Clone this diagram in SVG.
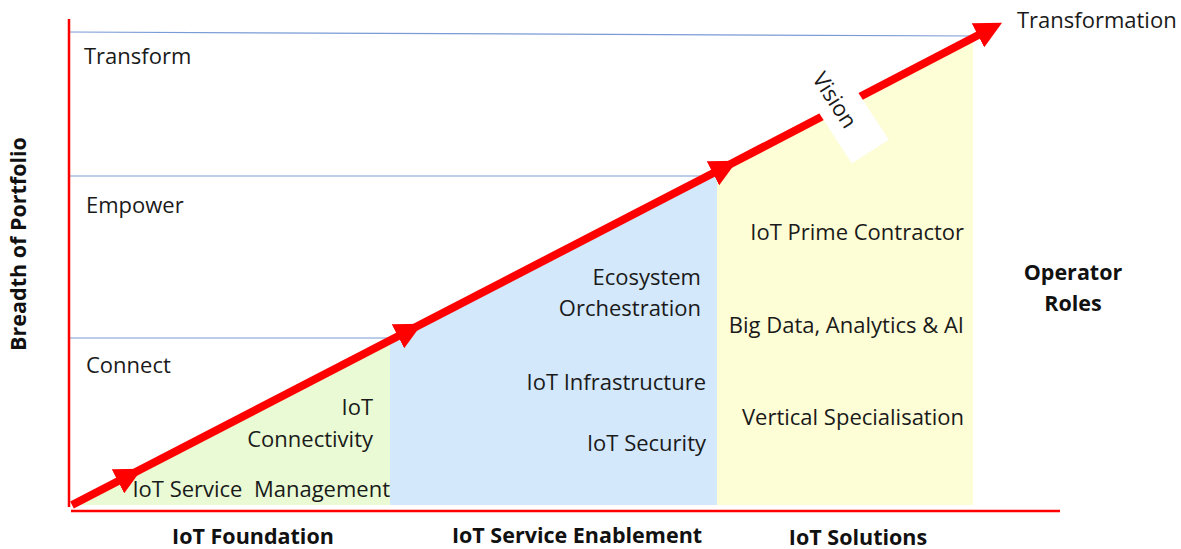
<svg xmlns="http://www.w3.org/2000/svg" width="1181" height="549" viewBox="0 0 1181 549">
<style>
.t{font-family:"Open Sans","Noto Sans","Liberation Sans",sans-serif;font-size:22px;fill:#1a1a1a}
.b{font-family:"Open Sans","Noto Sans","Liberation Sans",sans-serif;font-size:21.5px;font-weight:bold;fill:#111}
.grid{stroke:#7a9bd6;stroke-width:1.2;fill:none}
.axis{stroke:#ff0000;stroke-width:2.5;fill:none}
</style>
<defs>
<marker id="ah" viewBox="0 0 10 10" refX="5" refY="5" markerWidth="3.4" markerHeight="3.4" orient="auto" markerUnits="strokeWidth">
<path d="M0,0 L10,5 L0,10 Z" fill="#ff0000"/>
</marker>
</defs>
<rect width="1181" height="549" fill="#fff"/>
<g id="regions">
<polygon points="72,505 390,340 390,505" fill="#e9fad5"/>
<polygon points="390,340 717,170 717,505 390,505" fill="#d3e8fb"/>
<polygon points="717,170 973,37 973,505 717,505" fill="#fdfdd6"/>
</g>
<g id="gridlines">
<line class="grid" x1="69" y1="32" x2="975" y2="36"/>
<line class="grid" x1="69" y1="176" x2="720" y2="176"/>
<line class="grid" x1="69" y1="338" x2="395" y2="338"/>
</g>
<g id="axes">
<line class="axis" x1="69" y1="19" x2="69" y2="507"/>
<line class="axis" x1="71" y1="511" x2="1060" y2="511"/>
</g>
<g id="connectors">
<line x1="72" y1="505" x2="130" y2="475" stroke="#ff0000" stroke-width="8" marker-end="url(#ah)"/>
<line x1="126" y1="477" x2="410" y2="330" stroke="#ff0000" stroke-width="8" marker-end="url(#ah)"/>
<line x1="406" y1="332" x2="725" y2="167" stroke="#ff0000" stroke-width="8" marker-end="url(#ah)"/>
<line x1="721" y1="169" x2="990" y2="29" stroke="#ff0000" stroke-width="8" marker-end="url(#ah)"/>
</g>
<g id="vision">
<rect x="-52" y="-22" width="104" height="44" fill="#fff" transform="translate(842,108) rotate(57)"/>
<text class="t" x="0" y="8" text-anchor="middle" transform="translate(835,100) rotate(57)">Vision</text>
</g>
<g id="levels">
<text class="t" x="84" y="64">Transform</text>
<text class="t" x="86" y="213">Empower</text>
<text class="t" x="86" y="373">Connect</text>
<text class="t" x="1017" y="28">Transformation</text>
</g>
<g id="foundation">
<text class="t" x="373" y="415" text-anchor="end">IoT</text>
<text class="t" x="373" y="447" text-anchor="end">Connectivity</text>
<text class="t" x="390" y="497" text-anchor="end" xml:space="preserve">IoT Service  Management</text>
</g>
<g id="enablement">
<text class="t" x="701" y="285" text-anchor="end">Ecosystem</text>
<text class="t" x="701" y="316" text-anchor="end">Orchestration</text>
<text class="t" x="706" y="390" text-anchor="end">IoT Infrastructure</text>
<text class="t" x="706" y="451" text-anchor="end">IoT Security</text>
</g>
<g id="solutions">
<text class="t" x="964" y="240" text-anchor="end">IoT Prime Contractor</text>
<text class="t" x="964" y="333" text-anchor="end">Big Data, Analytics &amp; AI</text>
<text class="t" x="964" y="425" text-anchor="end">Vertical Specialisation</text>
</g>
<g id="labels">
<text class="b" x="1073" y="280" text-anchor="middle">Operator</text>
<text class="b" x="1073" y="311" text-anchor="middle">Roles</text>
<text class="b" x="0" y="0" text-anchor="middle" transform="translate(26,244) rotate(-90)">Breadth of Portfolio</text>
<text class="b" x="253" y="544" text-anchor="middle">IoT Foundation</text>
<text class="b" x="577" y="543" text-anchor="middle">IoT Service Enablement</text>
<text class="b" x="858" y="545" text-anchor="middle">IoT Solutions</text>
</g>
</svg>
